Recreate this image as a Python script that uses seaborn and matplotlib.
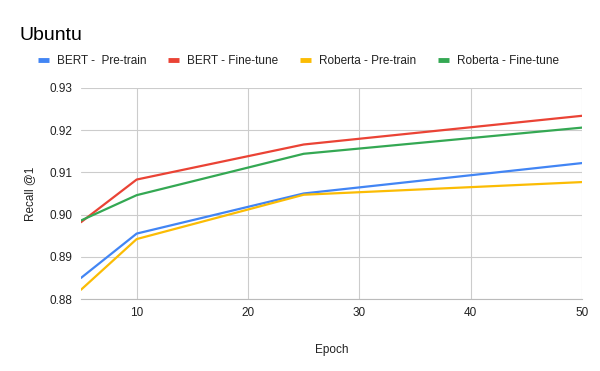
import matplotlib
matplotlib.use("Agg")
import matplotlib.pyplot as plt
import seaborn as sns
import pandas as pd

epochs = [5, 10, 25, 50]
bert_pre = [0.8850, 0.8955, 0.9050, 0.9122]
bert_fine = [0.8982, 0.9083, 0.9166, 0.9234]
roberta_pre = [0.8822, 0.8942, 0.9047, 0.9077]
roberta_fine = [0.8986, 0.9046, 0.9144, 0.9206]
series_names = ["BERT -  Pre-train", "BERT - Fine-tune", "Roberta - Pre-train", "Roberta - Fine-tune"]
colors = ["#4285F4", "#EA4335", "#FBBC04", "#34A853"]
x_ticks = [10, 20, 30, 40, 50]
y_ticks = [0.88, 0.89, 0.90, 0.91, 0.92, 0.93]

rows = []
for name, vals in zip(series_names, [bert_pre, bert_fine, roberta_pre, roberta_fine]):
    for e, v in zip(epochs, vals):
        rows.append({"Epoch": e, "Recall": v, "Series": name})
df = pd.DataFrame(rows)

sns.set_theme(style="white")
plt.rcParams["font.family"] = ["Liberation Sans", "DejaVu Sans"]

fig = plt.figure(figsize=(6, 3.71), dpi=100)
ax = fig.add_axes([0.135, 0.194, 0.835, 0.569])
sns.lineplot(data=df, x="Epoch", y="Recall", hue="Series", palette=colors,
             hue_order=series_names, linewidth=1.6, ax=ax, legend=False)

ax.set_xlim(5, 50)
ax.set_ylim(0.88, 0.93)
ax.set_xticks(x_ticks)
ax.set_yticks(y_ticks)
ax.set_yticklabels([f"{t:.2f}" for t in y_ticks])
ax.grid(True, color="#cccccc", linewidth=0.8)
ax.set_axisbelow(True)
for s in ["top", "right", "left"]:
    ax.spines[s].set_visible(False)
ax.spines["bottom"].set_color("#bbbbbb")
ax.spines["bottom"].set_linewidth(0.8)
ax.tick_params(axis="both", length=0, labelsize=8.5, colors="#222222", pad=6)
ax.set_xlabel("Epoch", fontsize=8.5, color="#222222", labelpad=18)
ax.set_ylabel("Recall @1", fontsize=8.5, color="#222222", labelpad=10)

fig.text(0.033, 0.905, "Ubuntu", fontsize=14, color="#000000", va="center")

from matplotlib.lines import Line2D
handles = [Line2D([0], [0], color=c, linewidth=3.5, solid_capstyle="butt") for c in colors]
fig.legend(handles, series_names, loc="center left", bbox_to_anchor=(0.046, 0.835),
           ncol=4, frameon=False, fontsize=8.5, handlelength=0.9, handletextpad=0.7,
           columnspacing=1.85, labelcolor="#222222")

fig.savefig("out.png", dpi=100)
